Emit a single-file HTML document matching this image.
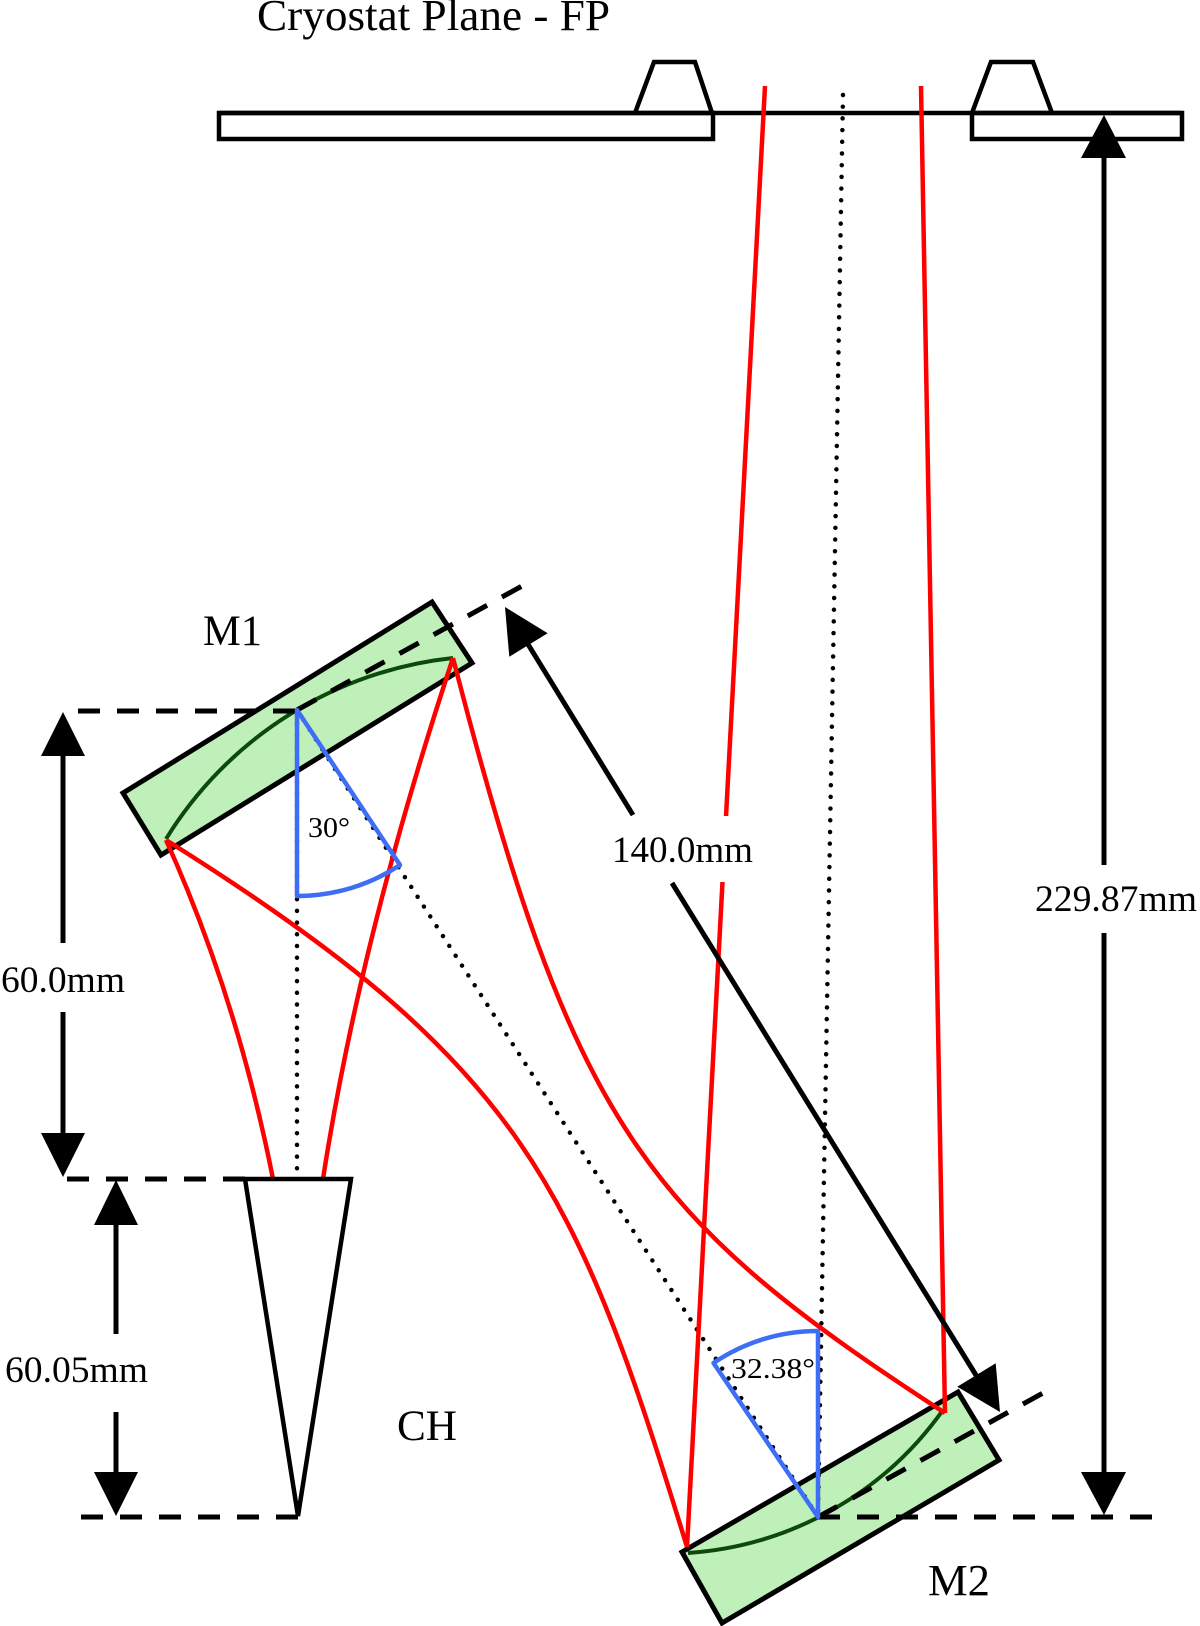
<!DOCTYPE html>
<html>
<head>
<meta charset="utf-8">
<style>
  html,body{margin:0;padding:0;background:#fff;}
  svg{display:block;}
  text{font-family:"Liberation Serif","Times New Roman",serif;fill:#000;}
</style>
</head>
<body>
<svg width="1200" height="1626" viewBox="0 0 1200 1626" xmlns="http://www.w3.org/2000/svg">
  <rect x="0" y="0" width="1200" height="1626" fill="#fff"/>

  <!-- Cryostat plane -->
  <line x1="219" y1="113" x2="1182" y2="113" stroke="#000" stroke-width="4.5"/>
  <rect x="219" y="113" width="494" height="26" fill="none" stroke="#000" stroke-width="4.5"/>
  <rect x="972" y="113" width="210" height="26" fill="none" stroke="#000" stroke-width="4.5"/>
  <polyline points="635,113 654,62 695,62 712,113" fill="none" stroke="#000" stroke-width="4.5" stroke-linejoin="miter"/>
  <polyline points="972,113 991,62 1033,62 1052,113" fill="none" stroke="#000" stroke-width="4.5" stroke-linejoin="miter"/>

  <!-- Mirrors -->
  <polygon points="432,602 472,663 161,855 123,793" fill="#bff0b9" stroke="#000" stroke-width="5" stroke-linejoin="miter"/>
  <polygon points="682,1552 958,1392 999,1460 722,1623" fill="#bff0b9" stroke="#000" stroke-width="5" stroke-linejoin="miter"/>
  <path d="M166,839 A385,385 0 0 1 453,658" fill="none" stroke="#0b4a0b" stroke-width="4"/>
  <path d="M688,1553 A341,341 0 0 0 943,1410" fill="none" stroke="#0b4a0b" stroke-width="4"/>

  <!-- Dashed lines -->
  <g stroke="#000" stroke-width="5" stroke-dasharray="22 17" fill="none">
    <line x1="78" y1="711" x2="297" y2="711"/>
    <line x1="297" y1="710" x2="522" y2="586"/>
    <line x1="67" y1="1179" x2="245" y2="1179"/>
    <line x1="81" y1="1517" x2="298" y2="1517"/>
    <line x1="818" y1="1517" x2="1160" y2="1517"/>
    <line x1="818" y1="1517" x2="1043" y2="1393"/>
  </g>

  <!-- Dotted lines -->
  <g stroke="#000" stroke-width="4.5" stroke-dasharray="0 11.7" stroke-linecap="round" fill="none">
    <line x1="297" y1="712" x2="297" y2="1170"/>
    <line x1="297" y1="710" x2="818" y2="1517"/>
    <line x1="843" y1="95" x2="818" y2="1517"/>
  </g>

  <!-- Red rays -->
  <g stroke="#ff0000" stroke-width="4.5" fill="none" stroke-linejoin="round">
    <line x1="765" y1="86" x2="687" y2="1547"/>
    <line x1="921" y1="86" x2="945" y2="1413"/>
    <path d="M166,840 Q237,997 273,1179"/>
    <path d="M453,658 Q360,939 323,1179"/>
    <path d="M453,658 C573,1124 643,1217 945,1413"/>
    <path d="M166,840 C522,1063 576,1184 687,1547"/>
  </g>

  <!-- Blue angle wedges -->
  <path d="M297,710 L297,896 A186,186 0 0 0 400,865 Z" fill="none" stroke="#3d6ef5" stroke-width="4.5" stroke-linejoin="round"/>
  <path d="M818,1517 L818,1331 A186,186 0 0 0 713.5,1363 Z" fill="none" stroke="#3d6ef5" stroke-width="4.5" stroke-linejoin="round"/>

  <!-- CH horn -->
  <polygon points="245,1179 351,1179 298,1516" fill="none" stroke="#000" stroke-width="4.5" stroke-linejoin="miter"/>

  <!-- white label background for 140.0mm -->
  <rect x="608" y="816" width="150" height="66" fill="#fff"/>

  <!-- Dimension arrows -->
  <g stroke="#000" stroke-width="5" fill="none">
    <line x1="63" y1="750" x2="63" y2="943"/>
    <line x1="63" y1="1012" x2="63" y2="1140"/>
    <line x1="116" y1="1220" x2="116" y2="1334"/>
    <line x1="116" y1="1412" x2="116" y2="1478"/>
    <line x1="1104" y1="152" x2="1104" y2="865"/>
    <line x1="1104" y1="933" x2="1104" y2="1478"/>
    <line x1="526" y1="641" x2="633" y2="815"/>
    <line x1="672" y1="883" x2="979" y2="1380"/>
  </g>
  <g fill="#000">
    <polygon points="63,712 41,756 85,756"/>
    <polygon points="41,1133 85,1133 63,1177"/>
    <polygon points="116,1180 94,1225 138,1225"/>
    <polygon points="94,1472 138,1472 116,1516"/>
    <polygon points="1104,115 1081,158 1126,158"/>
    <polygon points="1081,1472 1126,1472 1104,1515"/>
    <polygon points="505,607 509.3,656.8 547.7,633.2"/>
    <polygon points="1000,1412 995.7,1363.2 957.3,1386.8"/>
  </g>

  <!-- Labels -->
  <text x="257" y="30" font-size="44" textLength="353" lengthAdjust="spacingAndGlyphs">Cryostat Plane - FP</text>
  <text x="203" y="645" font-size="43" textLength="59" lengthAdjust="spacingAndGlyphs">M1</text>
  <text x="928" y="1595" font-size="44" textLength="62" lengthAdjust="spacingAndGlyphs">M2</text>
  <text x="397" y="1440" font-size="43" textLength="60" lengthAdjust="spacingAndGlyphs">CH</text>
  <text x="308" y="837" font-size="29" textLength="42" lengthAdjust="spacingAndGlyphs">30°</text>
  <text x="731" y="1378" font-size="29" textLength="84" lengthAdjust="spacingAndGlyphs">32.38°</text>
  <text x="612" y="862" font-size="37" textLength="141" lengthAdjust="spacingAndGlyphs">140.0mm</text>
  <text x="1035" y="911" font-size="37" textLength="162" lengthAdjust="spacingAndGlyphs">229.87mm</text>
  <text x="1" y="992" font-size="37" textLength="124" lengthAdjust="spacingAndGlyphs">60.0mm</text>
  <text x="5" y="1382" font-size="37" textLength="143" lengthAdjust="spacingAndGlyphs">60.05mm</text>
</svg>
</body>
</html>
